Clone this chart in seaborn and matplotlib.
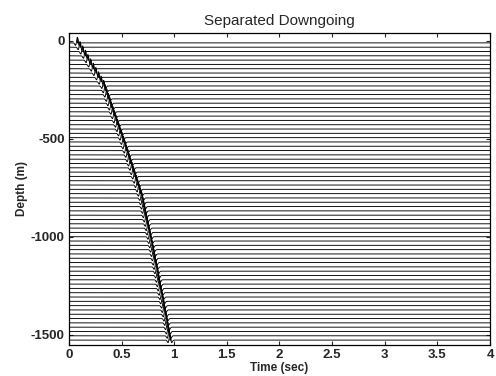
import numpy as np
import pandas as pd
import matplotlib
matplotlib.use("Agg")
import matplotlib.pyplot as plt
import seaborn as sns

# Receiver depths (m) and first-break times (s) of the downgoing wave
depths = [10, 32, 54, 76, 98, 120, 142, 164, 186, 208, 230, 252, 274, 296, 318,
          340, 362, 384, 406, 428, 450, 472, 494, 516, 538, 560, 582, 604, 626,
          648, 670, 692, 714, 736, 758, 780, 802, 824, 846, 868, 890, 912, 934,
          956, 978, 1000, 1022, 1044, 1066, 1088, 1110, 1132, 1154, 1176, 1198,
          1220, 1242, 1264, 1286, 1308, 1330, 1352, 1374, 1396, 1418, 1440, 1462,
          1484, 1506, 1528]
arrivals = [0.060, 0.085, 0.110, 0.135, 0.160, 0.185, 0.210, 0.235, 0.260, 0.285,
            0.310, 0.324, 0.339, 0.353, 0.368, 0.382, 0.396, 0.411, 0.425, 0.440,
            0.454, 0.469, 0.483, 0.497, 0.511, 0.524, 0.538, 0.551, 0.564, 0.578,
            0.591, 0.604, 0.618, 0.631, 0.645, 0.658, 0.671, 0.679, 0.688, 0.697,
            0.705, 0.714, 0.723, 0.731, 0.740, 0.749, 0.757, 0.766, 0.774, 0.783,
            0.791, 0.799, 0.807, 0.815, 0.822, 0.830, 0.838, 0.846, 0.854, 0.862,
            0.870, 0.878, 0.885, 0.893, 0.901, 0.908, 0.916, 0.924, 0.931, 0.939]
x_ticks = [0, 0.5, 1, 1.5, 2, 2.5, 3, 3.5, 4]
x_tick_labels = ["0", "0.5", "1", "1.5", "2", "2.5", "3", "3.5", "4"]
y_ticks = [0, -500, -1000, -1500]

sns.set_style("ticks")
plt.rcParams["font.family"] = ["Liberation Sans", "DejaVu Sans"]
plt.rcParams["axes.unicode_minus"] = False

t = np.arange(0.0, 4.0005, 0.002)
spacing = 22.0
gain = 1.3 * spacing
f0 = 22.0


def ricker(tau):
    a = (np.pi * f0 * tau) ** 2
    return (1 - 2 * a) * np.exp(-a)


frames = []
for d, t0 in zip(depths, arrivals):
    amp = ricker(t - (t0 + 0.02))
    frames.append(pd.DataFrame({"time": t, "amp": amp, "depth": d,
                                "y": -d + gain * amp}))
traces = pd.concat(frames, ignore_index=True)

fig = plt.figure(figsize=(4.96, 3.76), dpi=100)
ax = fig.add_axes([0.139, 0.083, 0.849, 0.829])

sns.lineplot(data=traces, x="time", y="y", units="depth", estimator=None,
             color="black", lw=0.65, ax=ax, legend=False, sort=False)

# variable-area fill of the positive lobes
for d, g in traces.groupby("depth"):
    ax.fill_between(g["time"], -d, g["y"], where=g["amp"] > 0,
                    color="black", lw=0, interpolate=True)

ax.set_xlim(0, 4)
ax.set_ylim(-1552, 40)
ax.set_xticks(x_ticks)
ax.set_xticklabels(x_tick_labels)
ax.set_yticks(y_ticks)
ax.tick_params(direction="in", top=True, right=True, length=3, width=0.8,
               labelsize=9.5, pad=3)
for lab in ax.get_xticklabels() + ax.get_yticklabels():
    lab.set_fontweight("bold")
for s in ax.spines.values():
    s.set_linewidth(0.9)
    s.set_color("black")

ax.set_xlabel("Time (sec)", fontsize=8.5, fontweight="bold", labelpad=1)
ax.set_ylabel("Depth (m)", fontsize=8.5, fontweight="bold", labelpad=2)
ax.set_title("Separated Downgoing", fontsize=11, pad=6)

fig.savefig("out.png", dpi=100)
